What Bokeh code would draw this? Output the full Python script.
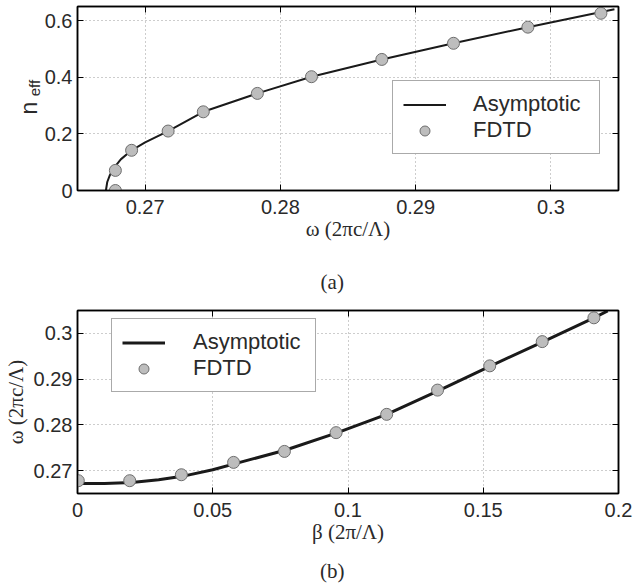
from bokeh.plotting import figure
from bokeh.models import (FixedTicker, LinearAxis, Legend, LegendItem, Range1d)
from bokeh.layouts import column
from bokeh.embed import file_html
from bokeh.resources import INLINE

# ---------------- data ----------------
# panel (a): effective index vs frequency
omega_fdtd_a = [0.2678, 0.2678, 0.2690, 0.2717, 0.2743, 0.2783, 0.2823,
                0.2875, 0.2928, 0.2983, 0.3037]
neff_fdtd = [0.000, 0.071, 0.142, 0.210, 0.278, 0.343, 0.402,
             0.463, 0.520, 0.577, 0.626]
omega_asym_a = [0.2671, 0.2672, 0.2674, 0.2677, 0.2682, 0.2690, 0.2700,
                0.2717, 0.2743, 0.2783, 0.2823, 0.2875, 0.2928, 0.2983, 0.3047]
neff_asym = [0.000, 0.030, 0.055, 0.080, 0.110, 0.142, 0.170,
             0.210, 0.278, 0.343, 0.402, 0.463, 0.520, 0.577, 0.640]

# panel (b): frequency vs propagation constant
beta_fdtd = [0.0003, 0.0193, 0.0384, 0.0577, 0.0765, 0.0956, 0.1143,
             0.1331, 0.1524, 0.1718, 0.1909]
omega_fdtd_b = [0.2678, 0.2678, 0.2691, 0.2718, 0.2742, 0.2783, 0.2823,
                0.2876, 0.2929, 0.2982, 0.3034]
beta_asym = [0.000, 0.010, 0.020, 0.030, 0.040, 0.050, 0.060, 0.077,
             0.0956, 0.1143, 0.1331, 0.1524, 0.1718, 0.1909, 0.1960]
omega_asym_b = [0.2672, 0.2672, 0.2674, 0.2680, 0.2689, 0.2702, 0.2718, 0.2745,
                0.2782, 0.2823, 0.2874, 0.2928, 0.2981, 0.3034, 0.3049]

xticks_a = [0.27, 0.28, 0.29, 0.30]
xtick_labels_a = ["0.27", "0.28", "0.29", "0.3"]
yticks_a = [0, 0.2, 0.4, 0.6]
ytick_labels_a = ["0", "0.2", "0.4", "0.6"]
xticks_b = [0, 0.05, 0.1, 0.15, 0.2]
xtick_labels_b = ["0", "0.05", "0.1", "0.15", "0.2"]
yticks_b = [0.27, 0.28, 0.29, 0.30]
ytick_labels_b = ["0.27", "0.28", "0.29", "0.3"]

legend_labels = ["Asymptotic", "FDTD"]

SANS = "Liberation Sans"
SERIF = "Liberation Serif"
TXT = "#2a2a2a"
NBSP = "\u00a0"


def style_axis(ax, ticks, labels, show_labels=True):
    ax.ticker = FixedTicker(ticks=ticks, minor_ticks=[])
    ax.major_label_overrides = dict(zip(ticks, labels))
    ax.major_tick_in = 6
    ax.major_tick_out = 0
    ax.major_tick_line_color = "black"
    ax.major_tick_line_width = 1
    ax.minor_tick_line_color = None
    ax.axis_line_color = "black"
    ax.axis_line_width = 1.5
    if show_labels:
        ax.major_label_text_font = SANS
        ax.major_label_text_font_size = "20px"
        ax.major_label_text_color = TXT
    else:
        ax.major_label_text_font_size = "1px"
        ax.major_label_text_color = None
        ax.major_label_standoff = 0


def make_fig(height, xr, yr, left, top, bottom, xt, xl, yt, yl):
    p = figure(width=633, height=height,
               x_range=Range1d(*xr), y_range=Range1d(*yr),
               output_backend="svg", toolbar_location=None,
               min_border_left=left, min_border_right=15,
               min_border_top=top, min_border_bottom=bottom)
    p.outline_line_color = "black"
    p.outline_line_width = 1.5
    style_axis(p.below[0], xt, xl)
    style_axis(p.left[0], yt, yl)
    p.below[0].major_label_standoff = 9
    p.left[0].major_label_standoff = 5
    p.xgrid.ticker = FixedTicker(ticks=xt, minor_ticks=[])
    p.ygrid.ticker = FixedTicker(ticks=yt, minor_ticks=[])
    p.grid.grid_line_color = "#9a9a9a"
    p.grid.grid_line_dash = "1 3"
    p.grid.grid_line_width = 1
    for ax in (p.below[0], p.left[0]):
        ax.axis_label_text_font = SERIF
        ax.axis_label_text_font_size = "21px"
        ax.axis_label_text_font_style = "normal"
        ax.axis_label_text_color = TXT
    ax_top = LinearAxis()
    style_axis(ax_top, xt, xl, show_labels=False)
    p.add_layout(ax_top, "above")
    ax_right = LinearAxis()
    style_axis(ax_right, yt, yl, show_labels=False)
    p.add_layout(ax_right, "right")
    return p


def make_legend(line_r, pts_r, loc, standoff, label_width, spacing):
    leg = Legend(items=[LegendItem(label=legend_labels[0], renderers=[line_r]),
                        LegendItem(label=legend_labels[1], renderers=[pts_r])],
                 location=loc)
    leg.label_text_font = SANS
    leg.label_text_font_size = "22px"
    leg.label_text_color = TXT
    leg.border_line_color = "#555555"
    leg.border_line_width = 1
    leg.background_fill_color = "white"
    leg.background_fill_alpha = 1
    leg.padding = 10
    leg.margin = 0
    leg.spacing = spacing
    leg.glyph_width = 43
    leg.glyph_height = 25
    leg.label_height = 25
    leg.label_standoff = standoff
    leg.label_width = label_width
    return leg


# ---------------- panel (a) ----------------
p1 = make_fig(300, (0.265, 0.305), (0, 0.65), 75, 6, 110,
              xticks_a, xtick_labels_a, yticks_a, ytick_labels_a)
# x label with the panel caption "(a)" two lines below it
p1.below[0].axis_label = "ω (2πc/Λ)\n\n(a)" + NBSP * 6
p1.below[0].axis_label_standoff = 0
p1.below[0].axis_label_text_line_height = 1.12

# y label "n" with subscript "eff" (second, label-only axis)
p1.left[0].axis_label = "n" + NBSP * 3
p1.left[0].axis_label_text_font = SANS
p1.left[0].axis_label_text_font_size = "23px"
p1.left[0].axis_label_standoff = 0
sub_ax = LinearAxis(ticker=FixedTicker(ticks=[], minor_ticks=[]),
                    axis_label=NBSP * 5 + "eff",
                    axis_label_text_font=SANS, axis_label_text_font_size="15px",
                    axis_label_text_font_style="normal",
                    axis_label_text_color=TXT, axis_label_standoff=-30,
                    axis_line_color=None, major_tick_line_color=None,
                    minor_tick_line_color=None, major_tick_out=0, major_tick_in=0,
                    major_label_standoff=0, major_label_text_color=None,
                    major_label_text_font_size="1px")
p1.add_layout(sub_ax, "left")

la = p1.line(omega_asym_a, neff_asym, line_color="#1a1a1a", line_width=2)
pa = p1.scatter(omega_fdtd_a, neff_fdtd, size=12, fill_color="#bdbdbd",
                line_color="#6e6e6e", line_width=1)
p1.add_layout(make_legend(la, pa, (315, 36), 27, 116, -3))

# ---------------- panel (b) ----------------
p2 = make_fig(288, (0, 0.2), (0.265, 0.305), 76, 10, 95,
              xticks_b, xtick_labels_b, yticks_b, ytick_labels_b)
p2.below[0].axis_label = "β (2π/Λ)\n\n(b)" + NBSP * 6
p2.below[0].axis_label_standoff = 0
p2.below[0].axis_label_text_line_height = 0.82
p2.left[0].axis_label = "ω (2πc/Λ)"
p2.left[0].axis_label_standoff = 3

lb = p2.line(beta_asym, omega_asym_b, line_color="#1a1a1a", line_width=3)
pb = p2.scatter(beta_fdtd, omega_fdtd_b, size=12, fill_color="#bdbdbd",
                line_color="#6e6e6e", line_width=1)
p2.add_layout(make_legend(lb, pb, (34, 101), 28, 112, -2))

layout = column(p1, p2, spacing=0)
open("out.html", "w").write(file_html(layout, INLINE))
